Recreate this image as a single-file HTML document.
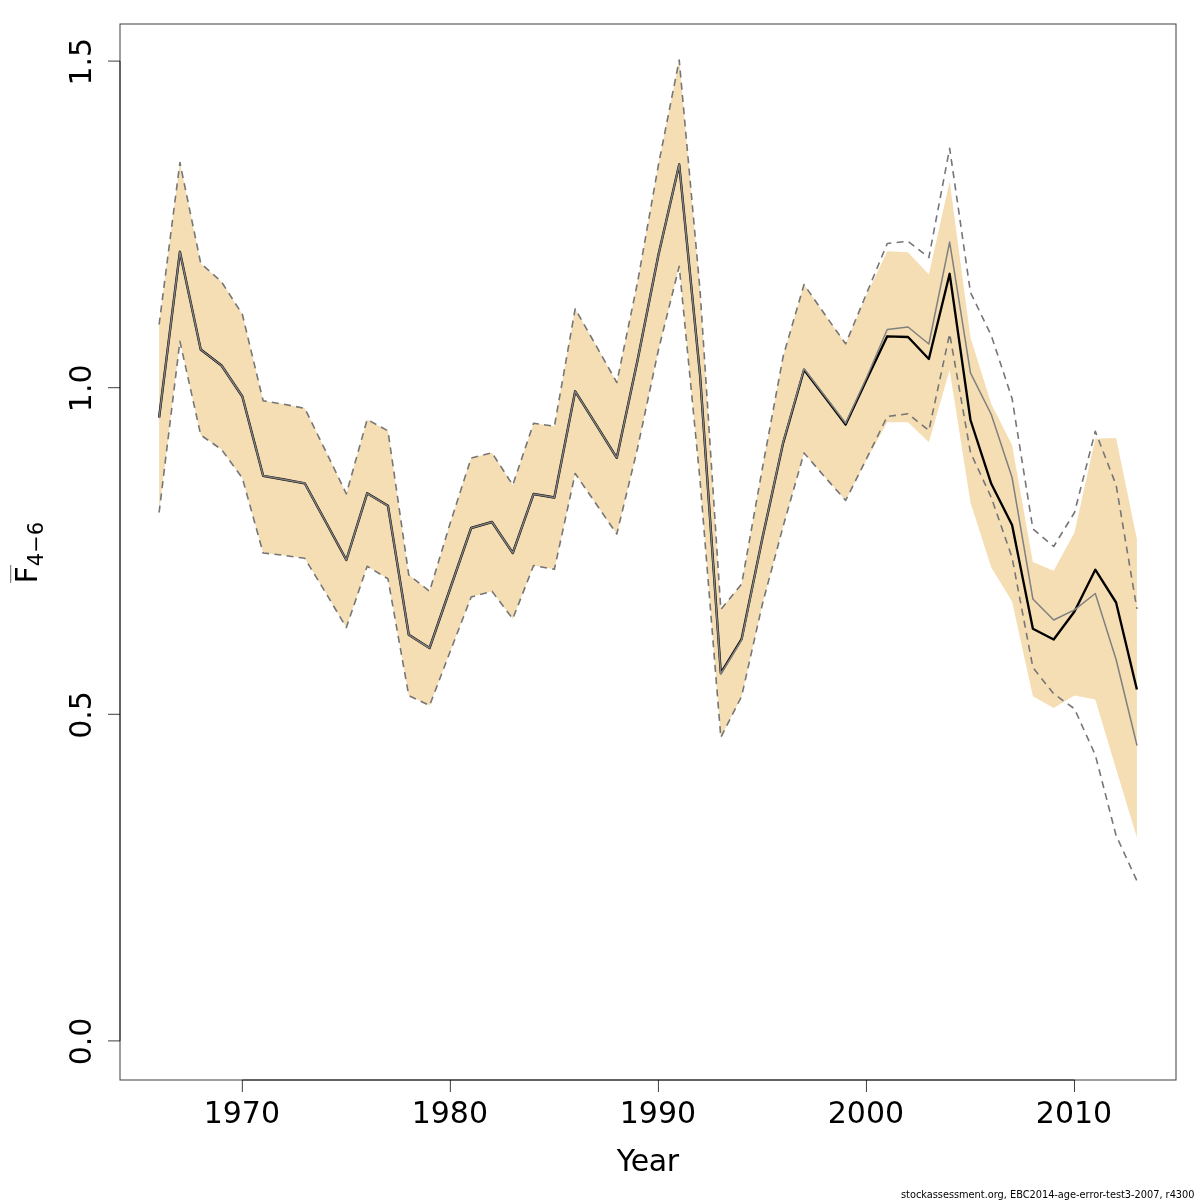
<!DOCTYPE html>
<html><head><meta charset="utf-8"><title>F4-6</title>
<style>html,body{margin:0;padding:0;background:#fff}svg{display:block}</style></head><body>
<svg width="1200" height="1200" viewBox="0 0 1200 1200" font-family="DejaVu Sans, Liberation Sans, sans-serif">
<rect width="1200" height="1200" fill="#fff"/>
<polygon points="159.11,512.50 179.91,341.30 200.72,435.00 221.52,449.50 242.33,478.00 263.13,553.00 283.93,555.30 304.74,558.30 325.54,592.50 346.35,627.50 367.15,566.30 387.95,578.80 408.76,695.50 429.56,705.50 450.37,651.00 471.17,597.00 491.97,591.30 512.78,618.80 533.58,565.50 554.39,569.30 575.19,473.50 595.99,503.80 616.80,534.00 637.60,448.00 658.41,350.00 679.21,266.30 700.01,480.00 720.82,737.50 741.62,696.30 762.43,604.00 783.23,526.00 804.03,453.00 824.84,477.00 845.64,500.50 866.45,460.00 887.25,422.30 908.05,422.30 928.86,442.30 949.66,370.00 970.47,502.50 991.27,567.50 1012.07,601.50 1032.88,696.30 1053.68,708.00 1074.49,695.50 1095.29,699.50 1116.09,769.00 1136.90,837.50 1136.90,539.00 1116.09,438.00 1095.29,438.80 1074.49,532.50 1053.68,570.80 1032.88,562.00 1012.07,445.00 991.27,404.00 970.47,337.50 949.66,181.30 928.86,274.50 908.05,252.30 887.25,251.30 866.45,295.00 845.64,343.80 824.84,314.50 804.03,284.50 783.23,356.00 762.43,468.00 741.62,584.00 720.82,609.50 700.01,290.00 679.21,60.00 658.41,165.00 637.60,282.00 616.80,382.50 595.99,345.50 575.19,308.80 554.39,426.30 533.58,423.30 512.78,485.00 491.97,452.80 471.17,458.00 450.37,522.50 429.56,591.30 408.76,574.80 387.95,430.80 367.15,419.50 346.35,493.80 325.54,450.80 304.74,408.30 283.93,404.30 263.13,400.80 242.33,314.30 221.52,281.80 200.72,263.30 179.91,162.50 159.11,324.50" fill="#F5DEB3" stroke="none"/>
<polyline points="159.11,417.50 179.91,251.80 200.72,349.50 221.52,365.50 242.33,396.50 263.13,475.80 283.93,479.50 304.74,483.30 325.54,521.50 346.35,560.00 367.15,493.30 387.95,505.80 408.76,634.80 429.56,648.00 450.37,588.00 471.17,528.00 491.97,522.00 512.78,553.00 533.58,494.00 554.39,497.50 575.19,391.30 595.99,424.30 616.80,457.80 637.60,360.00 658.41,255.00 679.21,164.50 700.01,374.70 720.82,673.20 741.62,639.00 762.43,538.00 783.23,442.60 804.03,369.80 824.84,397.00 845.64,424.50 866.45,380.00 887.25,336.30 908.05,337.00 928.86,359.00 949.66,273.80 970.47,420.00 991.27,483.80 1012.07,525.00 1032.88,628.80 1053.68,639.50 1074.49,611.50 1095.29,569.70 1116.09,602.50 1136.90,689.50" fill="none" stroke="#000" stroke-width="2.35" stroke-linejoin="round" stroke-linecap="butt"/>
<polyline points="159.11,417.50 179.91,251.80 200.72,349.50 221.52,365.50 242.33,396.50 263.13,475.80 283.93,479.50 304.74,483.30 325.54,521.50 346.35,560.00 367.15,493.30 387.95,505.80 408.76,634.80 429.56,648.00 450.37,588.00 471.17,528.00 491.97,522.00 512.78,553.00 533.58,494.00 554.39,497.50 575.19,391.30 595.99,424.30 616.80,457.80 637.60,360.00 658.41,255.00 679.21,164.50 700.01,375.00 720.82,674.00 741.62,640.00 762.43,538.00 783.23,442.00 804.03,368.80 824.84,396.00 845.64,423.30 866.45,378.00 887.25,329.50 908.05,327.00 928.86,344.00 949.66,242.00 970.47,372.80 991.27,414.50 1012.07,477.50 1032.88,599.00 1053.68,620.00 1074.49,609.80 1095.29,593.50 1116.09,659.50 1136.90,745.00" fill="none" stroke="#808080" stroke-width="1.5" stroke-linejoin="round" stroke-linecap="round"/>
<polyline points="159.11,324.50 179.91,162.50 200.72,263.30 221.52,281.80 242.33,314.30 263.13,400.80 283.93,404.30 304.74,408.30 325.54,450.80 346.35,493.80 367.15,419.50 387.95,430.80 408.76,574.80 429.56,591.30 450.37,522.50 471.17,458.00 491.97,452.80 512.78,485.00 533.58,423.30 554.39,426.30 575.19,308.80 595.99,345.50 616.80,382.50 637.60,282.00 658.41,165.00 679.21,60.00 700.01,290.00 720.82,609.50 741.62,584.00 762.43,468.00 783.23,356.00 804.03,284.50 824.84,314.50 845.64,343.80 866.45,293.80 887.25,243.50 908.05,241.30 928.86,257.50 949.66,148.30 970.47,292.50 991.27,335.50 1012.07,398.50 1032.88,528.80 1053.68,546.50 1074.49,512.50 1095.29,431.30 1116.09,485.00 1136.90,608.80" fill="none" stroke="#767676" stroke-width="1.6" stroke-dasharray="7 5.3" stroke-linejoin="round" stroke-linecap="butt"/>
<polyline points="159.11,512.50 179.91,341.30 200.72,435.00 221.52,449.50 242.33,478.00 263.13,553.00 283.93,555.30 304.74,558.30 325.54,592.50 346.35,627.50 367.15,566.30 387.95,578.80 408.76,695.50 429.56,705.50 450.37,651.00 471.17,597.00 491.97,591.30 512.78,618.80 533.58,565.50 554.39,569.30 575.19,473.50 595.99,503.80 616.80,534.00 637.60,448.00 658.41,350.00 679.21,266.30 700.01,480.00 720.82,737.50 741.62,696.30 762.43,604.00 783.23,526.00 804.03,453.00 824.84,477.00 845.64,500.50 866.45,458.80 887.25,416.50 908.05,413.80 928.86,430.50 949.66,333.80 970.47,452.50 991.27,497.50 1012.07,557.50 1032.88,667.50 1053.68,693.80 1074.49,708.80 1095.29,755.00 1116.09,835.50 1136.90,880.80" fill="none" stroke="#767676" stroke-width="1.6" stroke-dasharray="7 5.3" stroke-linejoin="round" stroke-linecap="butt"/>
<g stroke="#000" stroke-opacity="0.76" stroke-width="1" fill="none" stroke-linecap="butt">
<rect x="120" y="24" width="1056" height="1056"/>
<line x1="242.33" y1="1080" x2="1074.49" y2="1080"/>
<line x1="242.33" y1="1080" x2="242.33" y2="1092"/>
<line x1="450.37" y1="1080" x2="450.37" y2="1092"/>
<line x1="658.41" y1="1080" x2="658.41" y2="1092"/>
<line x1="866.45" y1="1080" x2="866.45" y2="1092"/>
<line x1="1074.49" y1="1080" x2="1074.49" y2="1092"/>
<line x1="120" y1="1040.9" x2="120" y2="61.1"/>
<line x1="108" y1="1040.9" x2="120" y2="1040.9"/>
<line x1="108" y1="714.3" x2="120" y2="714.3"/>
<line x1="108" y1="387.7" x2="120" y2="387.7"/>
<line x1="108" y1="61.1" x2="120" y2="61.1"/>
</g>
<g font-size="30" fill="#000" text-anchor="middle">
<text x="241.83" y="1123">1970</text>
<text x="449.87" y="1123">1980</text>
<text x="657.91" y="1123">1990</text>
<text x="865.95" y="1123">2000</text>
<text x="1073.99" y="1123">2010</text>
<text transform="translate(91,1041.50) rotate(-90)">0.0</text>
<text transform="translate(91,714.90) rotate(-90)">0.5</text>
<text transform="translate(91,388.30) rotate(-90)">1.0</text>
<text transform="translate(91,61.70) rotate(-90)">1.5</text>
<text x="647.7" y="1171" letter-spacing="-0.45">Year</text>
</g>
<g transform="translate(37,583.4) rotate(-90)" fill="#000"><text x="0" y="0" font-size="30">F<tspan font-size="21" dy="6">4−6</tspan></text><line x1="0.4" y1="-26.3" x2="18.4" y2="-26.3" stroke="#000" stroke-width="0.6"/></g>
<text x="1194.5" y="1197.5" font-size="9.8" textLength="293.5" lengthAdjust="spacing" text-anchor="end" fill="#000">stockassessment.org, EBC2014-age-error-test3-2007, r4300</text>
</svg></body></html>
